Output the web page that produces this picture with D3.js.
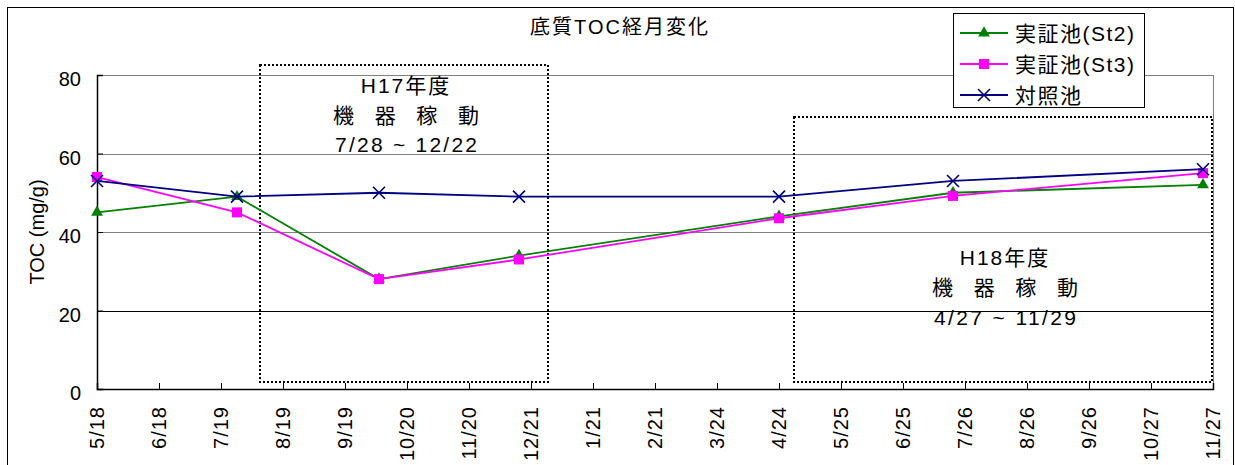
<!DOCTYPE html>
<html>
<head>
<meta charset="utf-8">
<script src="https://cdn.jsdelivr.net/npm/d3@7"></script>
<style>
  html, body { margin: 0; padding: 0; background: #fff; }
  svg { display: block; }
  text { font-family: "Liberation Sans", Arial, "Noto Sans CJK JP", sans-serif; fill: #000; }
</style>
</head>
<body>
<svg id="chart" width="1235" height="465"></svg>
<script>
// Sampling dates and TOC values (mg/g)
const sampleDates = ["2005-05-18", "2005-07-27", "2005-10-06", "2005-12-15", "2006-04-24", "2006-07-20", "2006-11-22"];
const st2Values  = [45, 49, 28, 34, 44, 50, 52];
const st3Values  = [54, 45, 28, 33, 43.5, 49.2, 55];
const ctrlValues = [53, 49, 50, 49, 49, 53, 56];

const seriesNames = ["実証池(St2)", "実証池(St3)", "対照池"];

// Date-axis tick positions (31-day steps)
const tickDates = ["2005-05-18", "2005-06-18", "2005-07-19", "2005-08-19", "2005-09-19", "2005-10-20",
                   "2005-11-20", "2005-12-21", "2006-01-21", "2006-02-21", "2006-03-24", "2006-04-24",
                   "2006-05-25", "2006-06-25", "2006-07-26", "2006-08-26", "2006-09-26", "2006-10-27",
                   "2006-11-27"];
const yTicks = [0, 20, 40, 60, 80];

const parse = d3.utcParse("%Y-%m-%d");
const fmt = d3.utcFormat("%-m/%-d");

const svg = d3.select("#chart");
const L = 97, R = 1213, T = 75, B = 389;

const x = d3.scaleUtc().domain([parse(tickDates[0]), parse(tickDates[tickDates.length - 1])]).range([L, R]);
const y = d3.scaleLinear().domain([0, 80]).range([B, T]);

// outer frame
svg.append("rect").attr("x", 7.5).attr("y", 7.5).attr("width", 1226).attr("height", 470)
  .attr("fill", "#fff").attr("stroke", "#000").attr("stroke-width", 1);

// title
svg.append("text").attr("x", 620).attr("y", 34).attr("text-anchor", "middle")
  .attr("font-size", 20).style("letter-spacing", "2px").text("底質TOC経月変化");

// gridlines
const gridColor = { 20: "#000", 40: "#808080", 60: "#808080", 80: "#808080" };
svg.append("g").selectAll("line").data(yTicks.filter(v => v > 0)).join("line")
  .attr("x1", L).attr("x2", R)
  .attr("y1", d => Math.round(y(d)) + 0.5).attr("y2", d => Math.round(y(d)) + 0.5)
  .attr("stroke", d => gridColor[d]).attr("stroke-width", 1);

// right border of plot area
svg.append("line").attr("x1", R + 0.5).attr("x2", R + 0.5).attr("y1", T).attr("y2", B)
  .attr("stroke", "#808080");

// activity-period boxes
const boxes = [
  { x0: 260, x1: 548, y0: 65, y1: 382, lines: ["H17年度", "機　器　稼　動", "7/28 ~ 12/22"], ty: [93, 123, 152], cx: 406 },
  { x0: 794, x1: 1212, y0: 117, y1: 382, lines: ["H18年度", "機　器　稼　動", "4/27 ~ 11/29"], ty: [265, 295, 325], cx: 1005 }
];
boxes.forEach(b => {
  svg.append("rect").attr("x", b.x0).attr("y", b.y0).attr("width", b.x1 - b.x0).attr("height", b.y1 - b.y0)
    .attr("fill", "none").attr("stroke", "#000").attr("stroke-width", 2).attr("stroke-dasharray", "2 2");
  b.lines.forEach((t, i) => {
    const el = svg.append("text").attr("x", b.cx).attr("y", b.ty[i]).attr("text-anchor", "middle")
      .attr("font-size", 21).text(t);
    if (i === 0) el.style("letter-spacing", "2px");
    if (i === 1) el.attr("textLength", 146).attr("lengthAdjust", "spacing");
    if (i === 2) el.attr("textLength", 142).attr("lengthAdjust", "spacing");
  });
});

// axes
const yAxis = d3.axisLeft(y).tickValues(yTicks).tickSize(-6).tickFormat("");
svg.append("g").attr("transform", `translate(${L},0)`).call(yAxis)
  .call(g => g.select(".domain").attr("stroke-width", 1.5))
  .call(g => g.selectAll(".tick line").attr("stroke-width", 1));
svg.append("g").selectAll("text").data(yTicks).join("text")
  .attr("x", 81).attr("y", d => y(d) + 11).attr("text-anchor", "end").attr("font-size", 20).text(d => d);

const xAxis = d3.axisBottom(x).tickValues(tickDates.map(parse)).tickSize(-6).tickFormat("");
svg.append("g").attr("transform", `translate(0,${B})`).call(xAxis)
  .call(g => g.select(".domain").attr("stroke-width", 1.5));
svg.append("g").selectAll("text").data(tickDates.map(parse)).join("text")
  .attr("transform", d => `translate(${x(d) + 7},406) rotate(-90)`)
  .attr("text-anchor", "end").attr("font-size", 20).style("letter-spacing", "1px").text(d => fmt(d));

// y-axis title
svg.append("text").attr("transform", "translate(44,232) rotate(-90)").attr("text-anchor", "middle")
  .attr("font-size", 20).text("TOC (mg/g)");

// series
const dates = sampleDates.map(parse);
const series = [
  { name: seriesNames[0], values: st2Values, color: "#008000", marker: "tri" },
  { name: seriesNames[1], values: st3Values, color: "#FF00FF", marker: "sq" },
  { name: seriesNames[2], values: ctrlValues, color: "#000080", marker: "x" }
];
const line = d3.line().x(d => x(d[0])).y(d => y(d[1]));

function drawMarker(g, type, color) {
  if (type === "tri") {
    g.append("path").attr("d", d3.symbol(d3.symbolTriangle, 60)()).attr("fill", color);
  } else if (type === "sq") {
    g.append("rect").attr("x", -5).attr("y", -5).attr("width", 10).attr("height", 10).attr("fill", color);
  } else {
    g.append("path").attr("d", "M-6,-6L6,6M-6,6L6,-6").attr("stroke", color).attr("stroke-width", 1.6).attr("fill", "none");
  }
}

series.forEach(s => {
  const pts = dates.map((d, i) => [d, s.values[i]]);
  svg.append("path").datum(pts).attr("d", line).attr("fill", "none")
    .attr("stroke", s.color).attr("stroke-width", 1.8);
  svg.append("g").selectAll("g").data(pts).join("g")
    .attr("transform", d => `translate(${x(d[0])},${y(d[1])})`)
    .each(function () { drawMarker(d3.select(this), s.marker, s.color); });
});

// legend
const lg = svg.append("g");
lg.append("rect").attr("x", 953.5).attr("y", 13.5).attr("width", 191).attr("height", 94)
  .attr("fill", "#fff").attr("stroke", "#000").attr("stroke-width", 1);
series.forEach((s, i) => {
  const cy = 33 + i * 31;
  lg.append("line").attr("x1", 960).attr("x2", 1008).attr("y1", cy).attr("y2", cy)
    .attr("stroke", s.color).attr("stroke-width", 1.8);
  drawMarker(lg.append("g").attr("transform", `translate(984,${cy})`), s.marker, s.color);
  lg.append("text").attr("x", 1015).attr("y", cy + 8).attr("font-size", 21)
    .style("letter-spacing", "1.5px").text(s.name);
});
</script>
</body>
</html>
